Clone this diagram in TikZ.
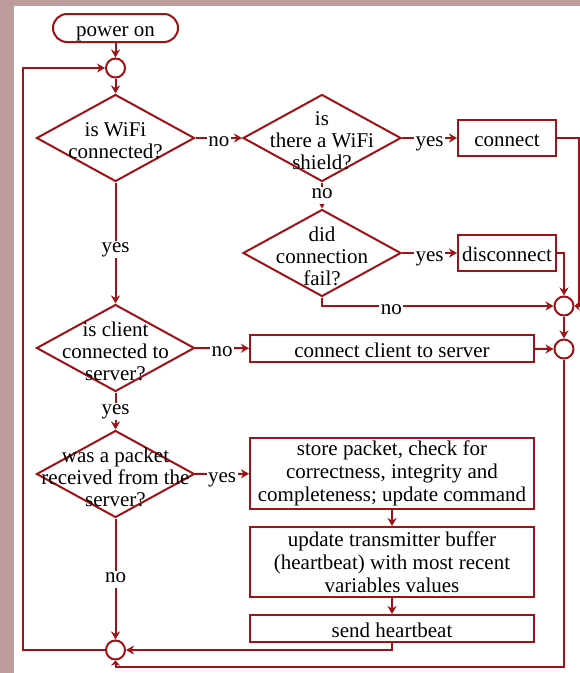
\documentclass[tikz,border=0pt]{standalone}
\usepackage{fontspec}
\setmainfont{Liberation Serif}
\usetikzlibrary{shapes.geometric}
\usetikzlibrary{arrows.meta}
\usetikzlibrary{positioning}
\usetikzlibrary{math}

\definecolor{flowred}{RGB}{160,18,22}
\definecolor{backpink}{RGB}{190,156,158}

\begin{document}
\begin{tikzpicture}[x=1pt,y=-1pt,line width=2pt,
  every node/.style={font=\fontsize{21}{22}\selectfont},
  oneline/.style={text height=22pt,text depth=5pt},
  flowline/.style={draw=flowred,-{Stealth[length=8pt,width=9pt,inset=2.5pt]}},
  shortline/.style={draw=flowred,-{Stealth[length=5pt,width=9pt,inset=1.5pt]}},
  startbox/.style={draw=flowred,oneline,rounded corners=14pt,minimum width=125pt,minimum height=28pt,inner sep=0pt},
  process/.style={draw=flowred,fill=white,minimum width=284pt,inner sep=0pt,align=center,font=\fontsize{21}{23}\selectfont},
  smallbox/.style={draw=flowred,oneline,minimum width=98pt,minimum height=36pt,inner sep=0pt},
  decision/.style={draw=flowred,diamond,minimum width=158pt,minimum height=87pt,inner sep=0pt},
  qtext/.style={align=center,yshift=-3pt},
  junction/.style={draw=flowred,fill=white,circle,minimum size=19pt,inner sep=0pt},
  lbl/.style={text height=14pt,text depth=5pt,yshift=-4pt,fill=white,inner sep=1.5pt},
  vlbl/.style={text height=10pt,text depth=4pt,fill=white,inner sep=1.5pt}]

  \tikzmath{
    \colL = 115.5; % left column of decisions
    \colM = 322;   % middle column of decisions
    \colB = 392;   % centre of the wide boxes
    \colR = 507;   % small boxes on the right
    \colJ = 564;   % junctions on the right
  }

  \useasboundingbox (0,0) rectangle (580,673);
  \fill[backpink] (0,0) rectangle (580,673);
  \fill[white] (14,6) rectangle (580,673);

  % left column
  \node[startbox] (power) at (\colL,28) {power on};
  \node[junction] (c1) at (\colL,68) {};
  \node[decision,label={[qtext]center:is WiFi\\connected?}] (wifi) at (\colL,138) {};
  \node[decision,label={[qtext]center:is client\\connected to\\server?}] (client) at (\colL,348) {};
  \node[decision,label={[qtext]center:was a packet\\received from the\\server?}] (packet) at (\colL,474) {};
  \node[junction] (c4) at (\colL,650) {};

  % WiFi shield branch
  \node[decision,label={[qtext]center:is\\there a WiFi\\shield?}] (shield) at (\colM,138) {};
  \node[decision,label={[qtext]center:did\\connection\\fail?}] (fail) at (\colM,253) {};
  \node[smallbox] (connect) at (\colR,138) {connect};
  \node[smallbox] (disc) at (\colR,253) {disconnect};
  \node[junction] (c2) at (\colJ,306) {};
  \node[junction] (c3) at (\colJ,349) {};

  % packet handling
  \node[process,oneline,minimum height=27pt] (ccs) at (\colB,348.5) {connect client to server};
  \node[process,minimum height=71pt] (store) at (\colB,473.5) {store packet, check for\\correctness, integrity and\\completeness; update command};
  \node[process,minimum height=70pt] (update) at (\colB,562) {update transmitter buffer\\(heartbeat) with most recent\\variables values};
  \node[process,oneline,minimum height=27pt] (send) at (\colB,628.5) {send heartbeat};

  % corners of the loops
  \coordinate (rc) at (579,138);
  \coordinate (br) at (\colJ,667);
  \coordinate (ll) at (23,650);

  % connectors
  \draw[flowline] (power) -- (c1);
  \draw[flowline] (c1) -- (wifi);
  \draw[flowline] (wifi) -- node[lbl] {no} (shield);
  \draw[flowline] (shield) -- node[lbl] {yes} (connect);
  \draw[flowline] (shield) -- node[vlbl] {no} (fail);
  \draw[flowline] (fail) -- node[lbl] {yes} (disc);
  \draw[shortline] (connect) -- (rc) |- (c2);
  \draw[flowline] (disc) -| (c2);
  \draw[flowline] (fail) |- node[lbl,pos=0.65] {no} (c2);
  \draw[flowline] (c2) -- (c3);
  \draw[flowline] (wifi) -- node[vlbl,pos=0.55] {yes} (client);
  \draw[flowline] (client) -- node[lbl] {no} (ccs);
  \draw[flowline] (ccs) -- (c3);
  \draw[flowline] (client) -- node[vlbl] {yes} (packet);
  \draw[flowline] (packet) -- node[lbl] {yes} (store);
  \draw[flowline] (store) -- (update);
  \draw[flowline] (update) -- (send);
  \draw[flowline] (packet) -- node[vlbl] {no} (c4);
  \draw[flowline] (send) |- (c4);
  \draw[shortline] (c3) -- (br) -| (c4);
  \draw[flowline] (c4) -- (ll) |- (c1);

\end{tikzpicture}
\end{document}
